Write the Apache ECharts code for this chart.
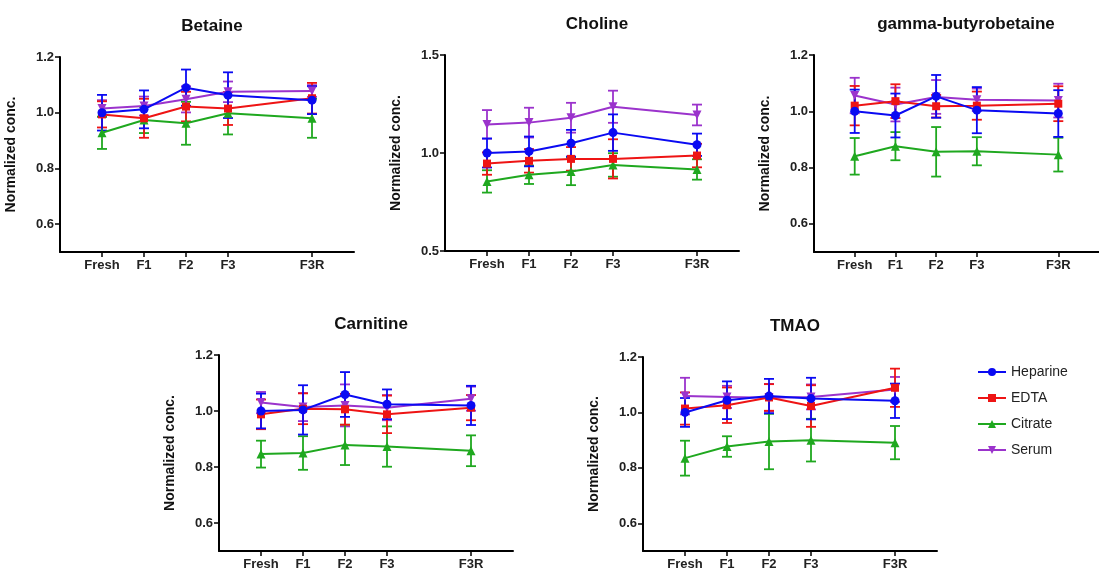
<!DOCTYPE html>
<html>
<head>
<meta charset="utf-8">
<script src="https://cdn.jsdelivr.net/npm/echarts@6/dist/echarts.min.js"></script>
<style>
  html, body { margin: 0; padding: 0; background: #fff; }
  #chart { width: 1099px; height: 574px; }
</style>
</head>
<body>
<div id="chart"></div>
<script>
// x positions: F3R sits two steps after F3
const stages = ["Fresh", "F1", "F2", "F3", "F3R"];
const stagePos = [0, 1, 2, 3, 5];
const groups = ["Heparine", "EDTA", "Citrate", "Serum"];

// means per group (Heparine, EDTA, Citrate, Serum) and error (SD)
const betaineMean = [
  [1.00, 1.012, 1.09, 1.063, 1.045],
  [0.994, 0.98, 1.022, 1.015, 1.052],
  [0.928, 0.974, 0.962, 0.998, 0.98],
  [1.015, 1.024, 1.048, 1.075, 1.078],
];
const betaineErr = [
  [0.064, 0.068, 0.065, 0.082, 0.05],
  [0.047, 0.07, 0.053, 0.059, 0.055],
  [0.058, 0.047, 0.077, 0.076, 0.07],
  [0.03, 0.034, 0.047, 0.037, 0.021],
];

const cholineMean = [
  [1.00, 1.008, 1.05, 1.104, 1.042],
  [0.946, 0.96, 0.97, 0.97, 0.987],
  [0.855, 0.889, 0.906, 0.939, 0.916],
  [1.146, 1.155, 1.18, 1.236, 1.194],
];
const cholineErr = [
  [0.074, 0.076, 0.068, 0.093, 0.057],
  [0.057, 0.06, 0.06, 0.1, 0.06],
  [0.057, 0.047, 0.07, 0.06, 0.052],
  [0.073, 0.076, 0.076, 0.082, 0.053],
];

const gbbMean = [
  [1.00, 0.985, 1.053, 1.004, 0.992],
  [1.02, 1.036, 1.018, 1.02, 1.027],
  [0.84, 0.876, 0.856, 0.858, 0.846],
  [1.056, 1.024, 1.051, 1.041, 1.038],
];
const gbbErr = [
  [0.077, 0.078, 0.076, 0.082, 0.083],
  [0.07, 0.06, 0.04, 0.05, 0.062],
  [0.065, 0.05, 0.088, 0.05, 0.06],
  [0.063, 0.06, 0.06, 0.04, 0.06],
];

const carnitineMean = [
  [1.00, 1.004, 1.059, 1.024, 1.02],
  [0.988, 1.008, 1.006, 0.988, 1.012],
  [0.846, 0.85, 0.879, 0.873, 0.858],
  [1.03, 1.014, 1.02, 1.012, 1.044],
];
const carnitineErr = [
  [0.062, 0.088, 0.08, 0.053, 0.07],
  [0.053, 0.055, 0.055, 0.067, 0.045],
  [0.048, 0.06, 0.072, 0.072, 0.055],
  [0.038, 0.05, 0.075, 0.045, 0.043],
];

const tmaoMean = [
  [1.00, 1.044, 1.059, 1.05, 1.042],
  [1.014, 1.026, 1.054, 1.023, 1.089],
  [0.835, 0.877, 0.895, 0.90, 0.891],
  [1.059, 1.056, 1.053, 1.056, 1.083],
];
const tmaoErr = [
  [0.052, 0.068, 0.062, 0.075, 0.062],
  [0.058, 0.064, 0.048, 0.075, 0.069],
  [0.063, 0.037, 0.1, 0.077, 0.06],
  [0.066, 0.04, 0.05, 0.045, 0.045],
];

const colors = ["#0a0af2", "#ee1414", "#1fa81f", "#9b33cc"];
const symbols = ["circle", "rect", "triangle", "triangle"];
const symbolSizes = [9, 8, 9, 9];
const symbolRot = [0, 0, 0, 180];

const panels = [
  { title: "Betaine", mean: betaineMean, err: betaineErr, left: 60, top: 57, height: 195, ymin: 0.5, ymax: 1.2, yTicks: [0.6, 0.8, 1.0, 1.2] },
  { title: "Choline", mean: cholineMean, err: cholineErr, left: 445, top: 55, height: 196, ymin: 0.5, ymax: 1.5, yTicks: [0.5, 1.0, 1.5] },
  { title: "gamma-butyrobetaine", mean: gbbMean, err: gbbErr, left: 814, top: 55, height: 197, ymin: 0.5, ymax: 1.2, yTicks: [0.6, 0.8, 1.0, 1.2] },
  { title: "Carnitine", mean: carnitineMean, err: carnitineErr, left: 219, top: 355, height: 196, ymin: 0.5, ymax: 1.2, yTicks: [0.6, 0.8, 1.0, 1.2] },
  { title: "TMAO", mean: tmaoMean, err: tmaoErr, left: 643, top: 357, height: 194, ymin: 0.5, ymax: 1.2, yTicks: [0.6, 0.8, 1.0, 1.2] },
];

const font = "Liberation Sans, Arial, sans-serif";
const grids = [], xAxes = [], yAxes = [], titles = [], series = [];

panels.forEach((p, i) => {
  grids.push({ left: p.left, top: p.top, width: 294, height: p.height });
  titles.push({
    text: p.title, left: p.left + 147, top: p.top - 44, textAlign: "center",
    textStyle: { fontFamily: font, fontSize: 17, fontWeight: "bold", color: "#111" },
  });
  xAxes.push({
    type: "value", gridIndex: i, min: -1, max: 6,
    axisLine: { onZero: false, lineStyle: { color: "#000", width: 2 } },
    axisTick: { customValues: stagePos, length: 5, lineStyle: { color: "#000", width: 1.5 } },
    axisLabel: {
      customValues: stagePos, margin: 7,
      formatter: (v) => stages[stagePos.indexOf(v)] || "",
      fontFamily: font, fontSize: 13, fontWeight: "bold", color: "#222",
    },
    splitLine: { show: false },
  });
  yAxes.push({
    type: "value", gridIndex: i, min: p.ymin, max: p.ymax,
    name: "Normalized conc.", nameLocation: "middle", nameGap: 42, nameRotate: 90,
    nameTextStyle: { fontFamily: font, fontSize: 14, fontWeight: "bold", color: "#111" },
    axisLine: { show: true, onZero: false, lineStyle: { color: "#000", width: 2 } },
    axisTick: { show: true, customValues: p.yTicks, length: 5, lineStyle: { color: "#000", width: 1.5 } },
    axisLabel: {
      customValues: p.yTicks, margin: 6,
      formatter: (v) => v.toFixed(1),
      fontFamily: font, fontSize: 13, fontWeight: "bold", color: "#222",
    },
    splitLine: { show: false },
  });

  // draw order: Serum, Citrate, EDTA, Heparine (on top)
  [3, 2, 1, 0].forEach((g) => {
    const errData = stagePos.map((x, k) => [x, p.mean[g][k] - p.err[g][k], p.mean[g][k] + p.err[g][k]]);
    series.push({
      type: "custom", name: groups[g] + " err", xAxisIndex: i, yAxisIndex: i,
      data: errData, encode: { x: 0, y: [1, 2] }, silent: true, z: 2,
      renderItem: (params, api) => {
        const top = api.coord([api.value(0), api.value(2)]);
        const bot = api.coord([api.value(0), api.value(1)]);
        const w = 5;
        const st = { stroke: colors[g], lineWidth: 1.8 };
        return {
          type: "group",
          children: [
            { type: "line", shape: { x1: top[0], y1: top[1], x2: bot[0], y2: bot[1] }, style: st },
            { type: "line", shape: { x1: top[0] - w, y1: top[1], x2: top[0] + w, y2: top[1] }, style: st },
            { type: "line", shape: { x1: bot[0] - w, y1: bot[1], x2: bot[0] + w, y2: bot[1] }, style: st },
          ],
        };
      },
    });
    series.push({
      type: "line", name: groups[g], xAxisIndex: i, yAxisIndex: i, z: 3,
      data: stagePos.map((x, k) => [x, p.mean[g][k]]),
      symbol: symbols[g], symbolSize: symbolSizes[g], symbolRotate: symbolRot[g],
      itemStyle: { color: colors[g] },
      lineStyle: { color: colors[g], width: 2 },
      animation: false,
    });
  });
});

const chart = echarts.init(document.getElementById("chart"));
chart.setOption({
  animation: false,
  backgroundColor: "#fff",
  title: titles,
  grid: grids,
  xAxis: xAxes,
  yAxis: yAxes,
  legend: {
    data: groups, orient: "vertical", left: 972, top: 360,
    itemWidth: 28, itemHeight: 10, itemGap: 12,
    textStyle: { fontFamily: font, fontSize: 14, color: "#222" },
  },
  series: series,
});
</script>
</body>
</html>
